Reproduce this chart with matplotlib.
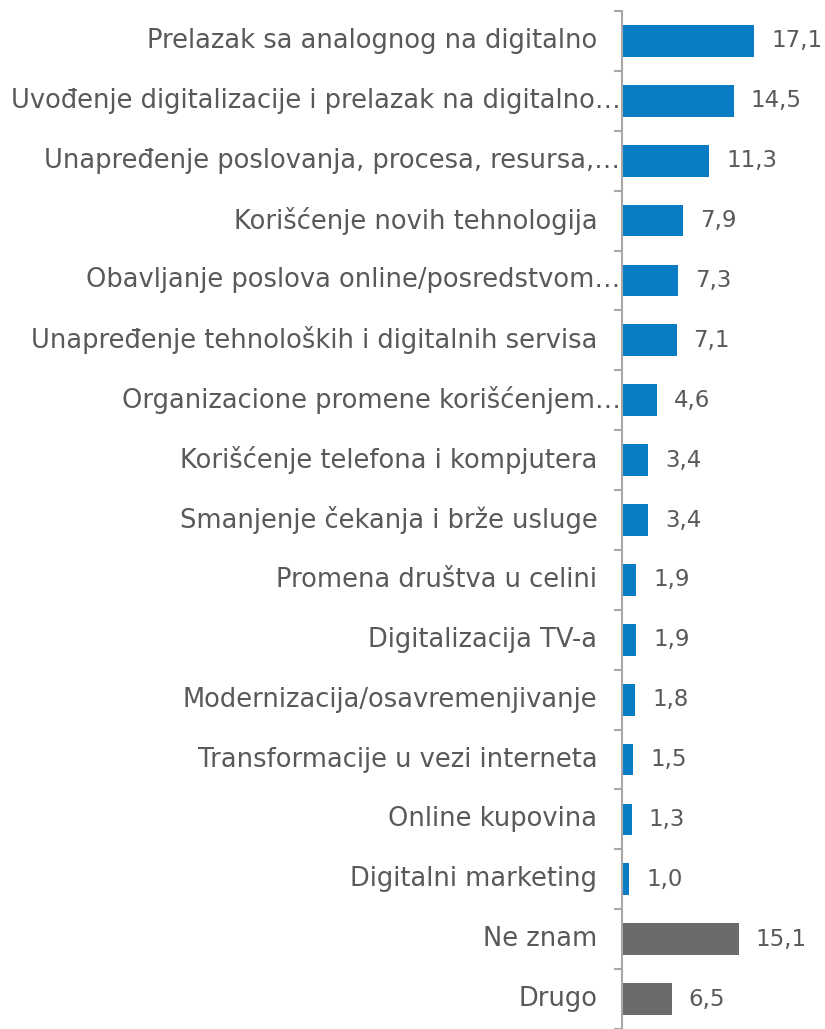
import numpy as np
import matplotlib.pyplot as plt
from matplotlib.transforms import offset_copy, blended_transform_factory

# kategorije i vrednosti (%)
kategorije = [
    'Prelazak sa analognog na digitalno',
    'Uvođenje digitalizacije i prelazak na digitalno…',
    'Unapređenje poslovanja, procesa, resursa,…',
    'Korišćenje novih tehnologija',
    'Obavljanje poslova online/posredstvom…',
    'Unapređenje tehnoloških i digitalnih servisa',
    'Organizacione promene korišćenjem…',
    'Korišćenje telefona i kompjutera',
    'Smanjenje čekanja i brže usluge',
    'Promena društva u celini',
    'Digitalizacija TV-a',
    'Modernizacija/osavremenjivanje',
    'Transformacije u vezi interneta',
    'Online kupovina',
    'Digitalni marketing',
    'Ne znam',
    'Drugo',
]
vrednosti = [17.1, 14.5, 11.3, 7.9, 7.3, 7.1, 4.6, 3.4, 3.4, 1.9, 1.9, 1.8, 1.5, 1.3, 1.0, 15.1, 6.5]
grupa = ['odgovor'] * 15 + ['ostalo'] * 2

boje = {'odgovor': '#0a7cc6', 'ostalo': '#6d6a6d'}
siva = '#595959'
plt.rcParams['font.family'] = ['DejaVu Sans']

fig = plt.figure(figsize=(8.25, 10.29), dpi=100)
W, H = 825, 1029
ax = fig.add_axes([621.5 / W, 0, 1 - 621.5 / W, 1 - 11 / H])

y = np.arange(len(kategorije))
ax.barh(y, vrednosti, height=0.53, color=[boje[g] for g in grupa])
ax.set_xlim(0, 26.26)
ax.set_ylim(16.5 - 2 / 60, -0.5)

for s in ['top', 'right', 'bottom']:
    ax.spines[s].set_visible(False)
ax.spines['left'].set_color('#a6a6a6')
ax.spines['left'].set_linewidth(1.5)
ax.set_xticks([])
ax.set_yticks(np.arange(-0.5, len(kategorije), 1.0))
ax.set_yticklabels([])
ax.tick_params(axis='y', length=6, width=1.5, color='#a6a6a6', direction='out')

# natpisi kategorija levo od ose
tr = blended_transform_factory(ax.transAxes, ax.transData)
for i, k in enumerate(kategorije):
    pomak = -1 if k.endswith('…') else -24
    ax.text(0, i, k, transform=offset_copy(tr, fig=fig, x=pomak, units='dots'),
            ha='right', va='center', fontsize=18.5, color=siva)

# vrednosti pored stubica
for i, v in enumerate(vrednosti):
    ax.annotate(f'{v:.1f}'.replace('.', ','), (v, i), xytext=(17, 0),
                textcoords='offset pixels', ha='left', va='center',
                fontsize=16.5, color=siva)

fig.savefig('out.png', dpi=100)
